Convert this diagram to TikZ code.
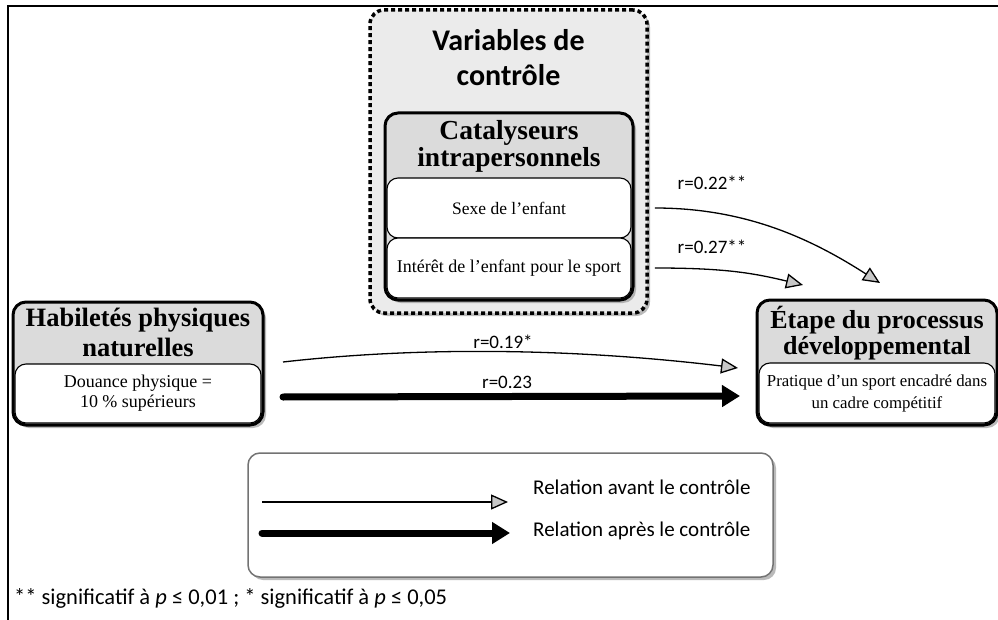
\documentclass[tikz,border=0pt]{standalone}
\usepackage{fontspec}
\setmainfont{Liberation Serif}
\setsansfont{Carlito}
\usetikzlibrary{arrows.meta,shadows}
\begin{document}
\begin{tikzpicture}[x=1pt,y=-1pt,
  shad/.style={drop shadow={shadow xshift=3pt,shadow yshift=-3pt,fill=black!45,opacity=0.6}},
  bigbox/.style={draw,line width=3pt,rounded corners=13pt,fill=black!14,shad,inner sep=0pt},
  subbox/.style={draw,line width=1.1pt,rounded corners=11pt,fill=white,inner sep=0pt,
    font=\fontsize{17.5}{21}\selectfont,align=center},
  ttl/.style={font=\bfseries\fontsize{26}{28}\selectfont,align=center,inner sep=0pt},
  lbl/.style={font=\sffamily\fontsize{19}{21}\selectfont,inner sep=0pt},
  relthin/.style={line width=1.3pt,-{Triangle[length=17pt,width=15pt,fill=black!22]}},
  relthick/.style={line width=7pt,line cap=round,-{Triangle[length=18pt,width=21pt]}},
]
\useasboundingbox (0,0) rectangle (998,620);
% frame
\coordinate (fa) at (8,620);
\coordinate (fb) at (8,6);
\coordinate (fc) at (998,6);
\draw[line width=1.5pt] (fa) -- (fb) -- (fc);

% control variables
\node[draw,line width=3.5pt,dash pattern=on 4pt off 3pt,rounded corners=14pt,fill=black!8,
  shad,minimum width=277pt,minimum height=303pt,inner sep=0pt] (ctrl) at (508.5,161.5) {};
\node[font=\sffamily\bfseries\fontsize{30}{35}\selectfont,align=center,inner sep=0pt] (vartitle) at (508.5,58) {Variables de\\contrôle};
\node[bigbox,minimum width=248pt,minimum height=187pt] (cat) at (509,206.5) {};
\node[ttl,font=\bfseries\fontsize{27.5}{27}\selectfont] (cattitle) at (509,146) {Catalyseurs\\intrapersonnels};
\node[subbox,minimum width=244pt,minimum height=60pt] (sexe) at (509,208) {Sexe de l’enfant};
\node[subbox,minimum width=244pt,minimum height=60pt,font=\fontsize{18}{21}\selectfont] (interet) at (509,268) {Intérêt de l’enfant pour le sport};

% left box
\node[bigbox,minimum width=250pt,minimum height=123pt] (hab) at (138,363.5) {};
\node[ttl,font=\bfseries\fontsize{26.5}{30}\selectfont] (habtitle) at (138,332) {Habiletés physiques\\naturelles};
\node[subbox,minimum width=246pt,minimum height=59pt,font=\fontsize{18}{20}\selectfont] (douance) at (138,393.5) {Douance physique =\\10 \% supérieurs};

% right box
\node[bigbox,minimum width=240pt,minimum height=125pt] (etape) at (877,362.5) {};
\node[ttl,font=\bfseries\fontsize{26}{26}\selectfont] (etapetitle) at (877,333) {Étape du processus\\développemental};
\node[subbox,minimum width=236pt,minimum height=60pt,font=\fontsize{16.8}{22}\selectfont] (pratique) at (877,393) {Pratique d’un sport encadré dans\\un cadre compétitif};

% arrows from control variables
\coordinate (s22) at ([xshift=6pt]ctrl.east |- sexe.center);
\coordinate (e22) at (880,283);
\coordinate (s27) at ([xshift=6pt]ctrl.east |- interet.center);
\coordinate (e27) at (803,285);
\draw[relthin] (s22) .. controls +(90,0) and +(-70,-45) .. (e22);
\draw[relthin] (s27) .. controls +(70,0) and +(-50,-12) .. (e27);
\node[lbl] (r22) at (712,183) {r=0.22**};
\node[lbl] (r27) at (712,247) {r=0.27**};

% arrows from left box
\coordinate (s19) at (283,362);
\coordinate (e19) at (738,368);
\coordinate (s23) at (283,397);
\coordinate (e23) at (740,396);
\draw[relthin] (s19) .. controls +(150,-17) and +(-150,-18) .. (e19);
\draw[relthick] (s23) -- (e23);
\node[lbl] (r19) at (503,342) {r=0.19*};
\node[lbl] (r23) at (507,382) {r=0.23};

% legend
\node[draw=black!55,line width=1.5pt,rounded corners=12pt,fill=white,shad,
  minimum width=525pt,minimum height=124pt,inner sep=0pt] (leg) at (510.5,515) {};
\coordinate (l1s) at (262,502);
\coordinate (l1e) at (508,502);
\coordinate (l2s) at (262,533);
\coordinate (l2e) at (510,533);
\draw[relthin] (l1s) -- (l1e);
\draw[relthick] (l2s) -- (l2e);
\node[lbl,font=\sffamily\fontsize{21}{24}\selectfont,anchor=west] (leg1) at (533,487) {Relation avant le contrôle};
\node[lbl,font=\sffamily\fontsize{21}{24}\selectfont,anchor=west] (leg2) at (533,531) {Relation après le contrôle};

% footnote
\node[lbl,font=\sffamily\fontsize{22.5}{24}\selectfont,anchor=west] (foot) at (14,598)
  {** significatif à \textit{p} ≤ 0,01 ; * significatif à \textit{p} ≤ 0,05};
\end{tikzpicture}
\end{document}
